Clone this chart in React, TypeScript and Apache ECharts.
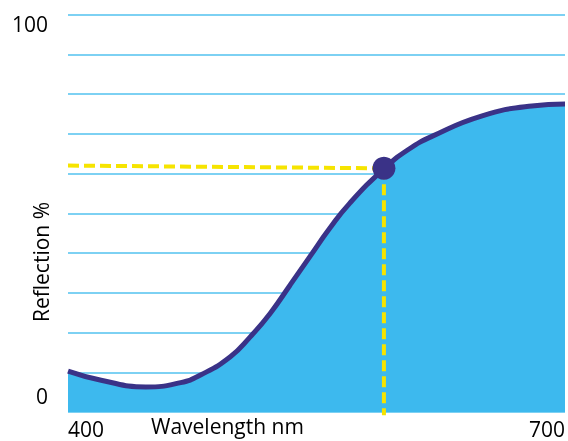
import React, { useEffect, useRef } from "react";
import * as echarts from "echarts";

const wavelengths = [400, 420, 447, 468, 480, 498, 510, 522, 534, 546, 558, 570, 591, 605, 620, 650, 680, 700];
const reflection = [10.3, 8.0, 6.3, 7.4, 9.3, 13.9, 18.9, 24.8, 31.9, 39.1, 46.2, 52.5, 61.3, 65.9, 69.4, 74.5, 77.0, 77.5];
const markerPoint = [590.7, 61.3];
const guideStartY = 62.0;
const xTickLabels = ["400", "700"];
const yTickLabels = ["0", "100"];
const xTitle = "Wavelength nm";
const yTitle = "Reflection %";

const FONT = "Open Sans";
const INK = "#000";

export default function App() {
  const ref = useRef<HTMLDivElement>(null);
  useEffect(() => {
    if (!ref.current) return;
    const chart = echarts.init(ref.current, undefined, { renderer: "svg" });
    const curve = wavelengths.map((w, i) => [w, reflection[i]]);
    chart.setOption({
      animation: false,
      grid: { left: 68, right: 3, top: 14.5, bottom: 29, containLabel: false },
      xAxis: {
        type: "value",
        min: 400,
        max: 700,
        interval: 100,
        axisLine: { show: false },
        axisTick: { show: false },
        splitLine: { show: false },
        axisLabel: {
          formatter: (v: number) => (xTickLabels.includes(String(v)) ? `${v}` : ""),
          alignMinLabel: "left",
          alignMaxLabel: "right",
          color: INK,
          fontFamily: FONT,
          fontSize: 21,
          margin: 6,
        },
      },
      yAxis: {
        type: "value",
        min: 0,
        max: 100,
        interval: 10,
        axisLine: { show: false },
        axisTick: { show: false },
        splitLine: { show: true, lineStyle: { color: "#52C2EF", width: 1.5 } },
        axisLabel: {
          formatter: (v: number) => {
            const s = String(v);
            if (!yTickLabels.includes(s)) return "";
            return v === 0 ? `{b|${s}}` : `{t|${s}}`;
          },
          margin: 20,
          color: INK,
          fontFamily: FONT,
          fontSize: 21,
          rich: {
            t: { lineHeight: 40, verticalAlign: "bottom", fontFamily: FONT, fontSize: 21, color: INK },
            b: { lineHeight: 54, verticalAlign: "top", fontFamily: FONT, fontSize: 21, color: INK },
          },
        },
      },
      graphic: [
        {
          type: "text",
          left: 151,
          top: 415,
          style: { text: xTitle, fontFamily: FONT, fontSize: 21, fill: INK },
        },
        {
          type: "text",
          x: 41,
          y: 262,
          rotation: Math.PI / 2,
          style: {
            text: yTitle,
            fontFamily: FONT,
            fontSize: 21,
            fill: INK,
            align: "center",
            verticalAlign: "middle",
          },
        },
      ],
      series: [
        {
          type: "line",
          data: curve,
          smooth: 0.5,
          showSymbol: false,
          symbol: "none",
          lineStyle: { color: "#3A3287", width: 5 },
          areaStyle: { color: "#3DB9EE", opacity: 1 },
          z: 2,
        },
        {
          type: "line",
          data: [[400, guideStartY], markerPoint],
          symbol: "none",
          clip: false,
          lineStyle: { color: "#F6E400", width: 4, type: [11, 5] },
          z: 3,
        },
        {
          type: "line",
          data: [markerPoint, [markerPoint[0], -0.8]],
          symbol: "none",
          clip: false,
          lineStyle: { color: "#F6E400", width: 4, type: [11, 5] },
          z: 3,
        },
        {
          type: "scatter",
          data: [markerPoint],
          symbolSize: 23,
          itemStyle: { color: "#3A3287", opacity: 1 },
          z: 5,
        },
      ],
    });
    return () => chart.dispose();
  }, []);
  return (
    <div
      ref={ref}
      style={{ position: "fixed", left: 0, top: 0, width: 568, height: 441 }}
    />
  );
}
